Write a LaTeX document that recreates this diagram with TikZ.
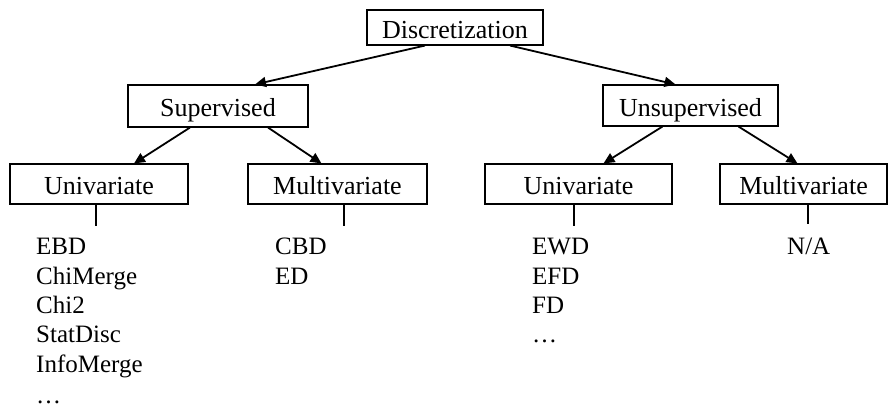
\documentclass[tikz,border=0pt]{standalone}
\usepackage{fontspec}
\setmainfont{Liberation Serif}
\usetikzlibrary{calc,arrows.meta}
\begin{document}
\begin{tikzpicture}[x=1pt,y=-1pt,
  every node/.style={font=\fontsize{25}{29.3}\selectfont},
  box/.style={draw,line width=1.1pt,inner sep=0pt,text height=22pt,text depth=0pt,
    font=\fontsize{26}{30}\selectfont},
  link/.style={line width=1.8pt,-{Triangle[length=11pt,width=10pt]}},
  stem/.style={line width=1.2pt},
  items/.style={anchor=base west,inner sep=0pt}]
\useasboundingbox (0,0) rectangle (889,411);

% hierarchy boxes
\node[box,minimum width=176pt,minimum height=35pt] (D)  at (455,27.5)  {Discretization};
\node[box,minimum width=180pt,minimum height=42pt] (S)  at (218,106)   {Supervised};
\node[box,minimum width=175pt,minimum height=41pt] (U)  at (690.5,105.5) {Unsupervised};
\node[box,minimum width=178pt,minimum height=40pt] (SU) at (99,184)    {Univariate};
\node[box,minimum width=179pt,minimum height=40pt] (SM) at (337.5,184) {Multivariate};
\node[box,minimum width=187pt,minimum height=40pt] (UU) at (578.5,184) {Univariate};
\node[box,minimum width=167pt,minimum height=40pt] (UM) at (803.5,184) {Multivariate};

% arrows between levels
\draw[link] ($(D.south)+(-30,0)$) -- ($(S.north)+(37,0)$);
\draw[link] ($(D.south)+(55,0)$)  -- ($(U.north)+(-15,0)$);
\draw[link] ($(S.south)+(-28,0)$) -- ($(SU.north)+(35,0)$);
\draw[link] ($(S.south)+(50,0)$)  -- ($(SM.north)+(-16,0)$);
\draw[link] ($(U.south)+(-28,0)$) -- ($(UU.north)+(25,0)$);
\draw[link] ($(U.south)+(48,0)$)  -- ($(UM.north)+(-6,0)$);

% method lists
\node[items] (L1) at (36,255) {\begin{tabular}[t]{@{}l@{}}EBD\\ChiMerge\\Chi2\\StatDisc\\InfoMerge\\[2pt]\dots\end{tabular}};
\node[items] (L2) at (275,255) {\begin{tabular}[t]{@{}l@{}}CBD\\ED\end{tabular}};
\node[items] (L3) at (532,255) {\begin{tabular}[t]{@{}l@{}}EWD\\EFD\\FD\\\dots\end{tabular}};
\node[items] (L4) at (787,255) {N/A};

% stems from boxes down to the lists
\coordinate (e1) at (96,226);
\coordinate (e2) at (344,226);
\coordinate (e3) at (574,226);
\coordinate (e4) at (808,224);
\draw[stem] (e1 |- SU.south) -- (e1);
\draw[stem] (e2 |- SM.south) -- (e2);
\draw[stem] (e3 |- UU.south) -- (e3);
\draw[stem] (e4 |- UM.south) -- (e4);
\end{tikzpicture}
\end{document}
